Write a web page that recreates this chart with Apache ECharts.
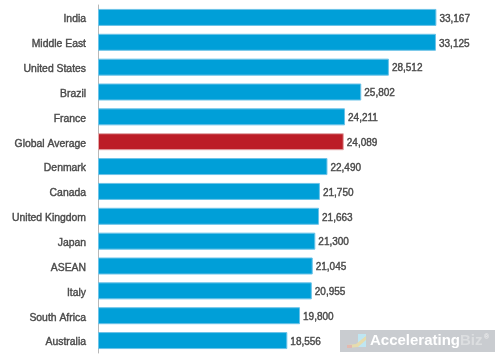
<!DOCTYPE html>
<html><head><meta charset="utf-8">
<style>html,body{margin:0;padding:0;background:#fff}#c{width:500px;height:358px}</style>
<script src="https://cdn.jsdelivr.net/npm/echarts@6/dist/echarts.min.js"></script>
</head><body><div id="c"></div>
<script>
const categories=["India","Middle East","United States","Brazil","France","Global Average","Denmark","Canada","United Kingdom","Japan","ASEAN","Italy","South Africa","Australia"];
const values=[33167,33125,28512,25802,24211,24089,22490,21750,21663,21300,21045,20955,19800,18556];
const highlighted="Global Average";
const chart=echarts.init(document.getElementById('c'),null,{renderer:'canvas'});
const ink={color:'#4a4a4a',textBorderColor:'#4a4a4a',textBorderWidth:0.4,fontFamily:'Liberation Sans'};
chart.setOption({
 animation:false,
 grid:{left:98,right:0,top:5,bottom:5},
 xAxis:{type:'value',min:0,max:39400,show:false},
 yAxis:{type:'category',inverse:true,data:categories,
  axisLine:{lineStyle:{color:'#b8b8b8',width:1}},
  axisTick:{alignWithLabel:true,length:8,lineStyle:{color:'#b8b8b8'}},
  axisLabel:{margin:12,formatter:'{a|{value}}',rich:{a:Object.assign({fontSize:10.4,padding:[4,0,0,0]},ink)}}},
 series:[{type:'bar',barWidth:17,
  data:values.map((v,i)=>({value:v,itemStyle:categories[i]===highlighted?{color:'#bc1d26',borderColor:'#e3a7a9',borderWidth:1}:{color:'#009fd8',borderColor:'#6cc3e8',borderWidth:1}})),
  label:Object.assign({show:true,position:'right',distance:3,offset:[0,1.5],fontSize:10,formatter:p=>p.value.toLocaleString('en-US')},ink)}],
 graphic:[
  {type:'rect',left:340,top:330,shape:{width:155,height:22},style:{fill:'#c9ccd0'}},
  {type:'rect',left:358,top:334,shape:{width:8,height:13},style:{fill:'#bfe6f2'}},
  {type:'polygon',shape:{points:[[347,345],[356,344],[366,336],[366,340],[358,347],[347,348]]},style:{fill:'#e6dcae'}},
  {type:'rect',left:347,top:345,shape:{width:5,height:3},style:{fill:'#e3b9b0'}},
  {type:'text',left:370,top:333,style:{text:'Accelerating',fill:'#fff',font:'bold 15px "Liberation Sans"'}},
  {type:'text',left:460,top:333,style:{text:'Biz',fill:'#dcdee0',font:'bold 15px "Liberation Sans"'}},
  {type:'text',left:484,top:334,style:{text:'®',fill:'#eee',font:'bold 7px "Liberation Sans"'}}
 ]
});
</script></body></html>
